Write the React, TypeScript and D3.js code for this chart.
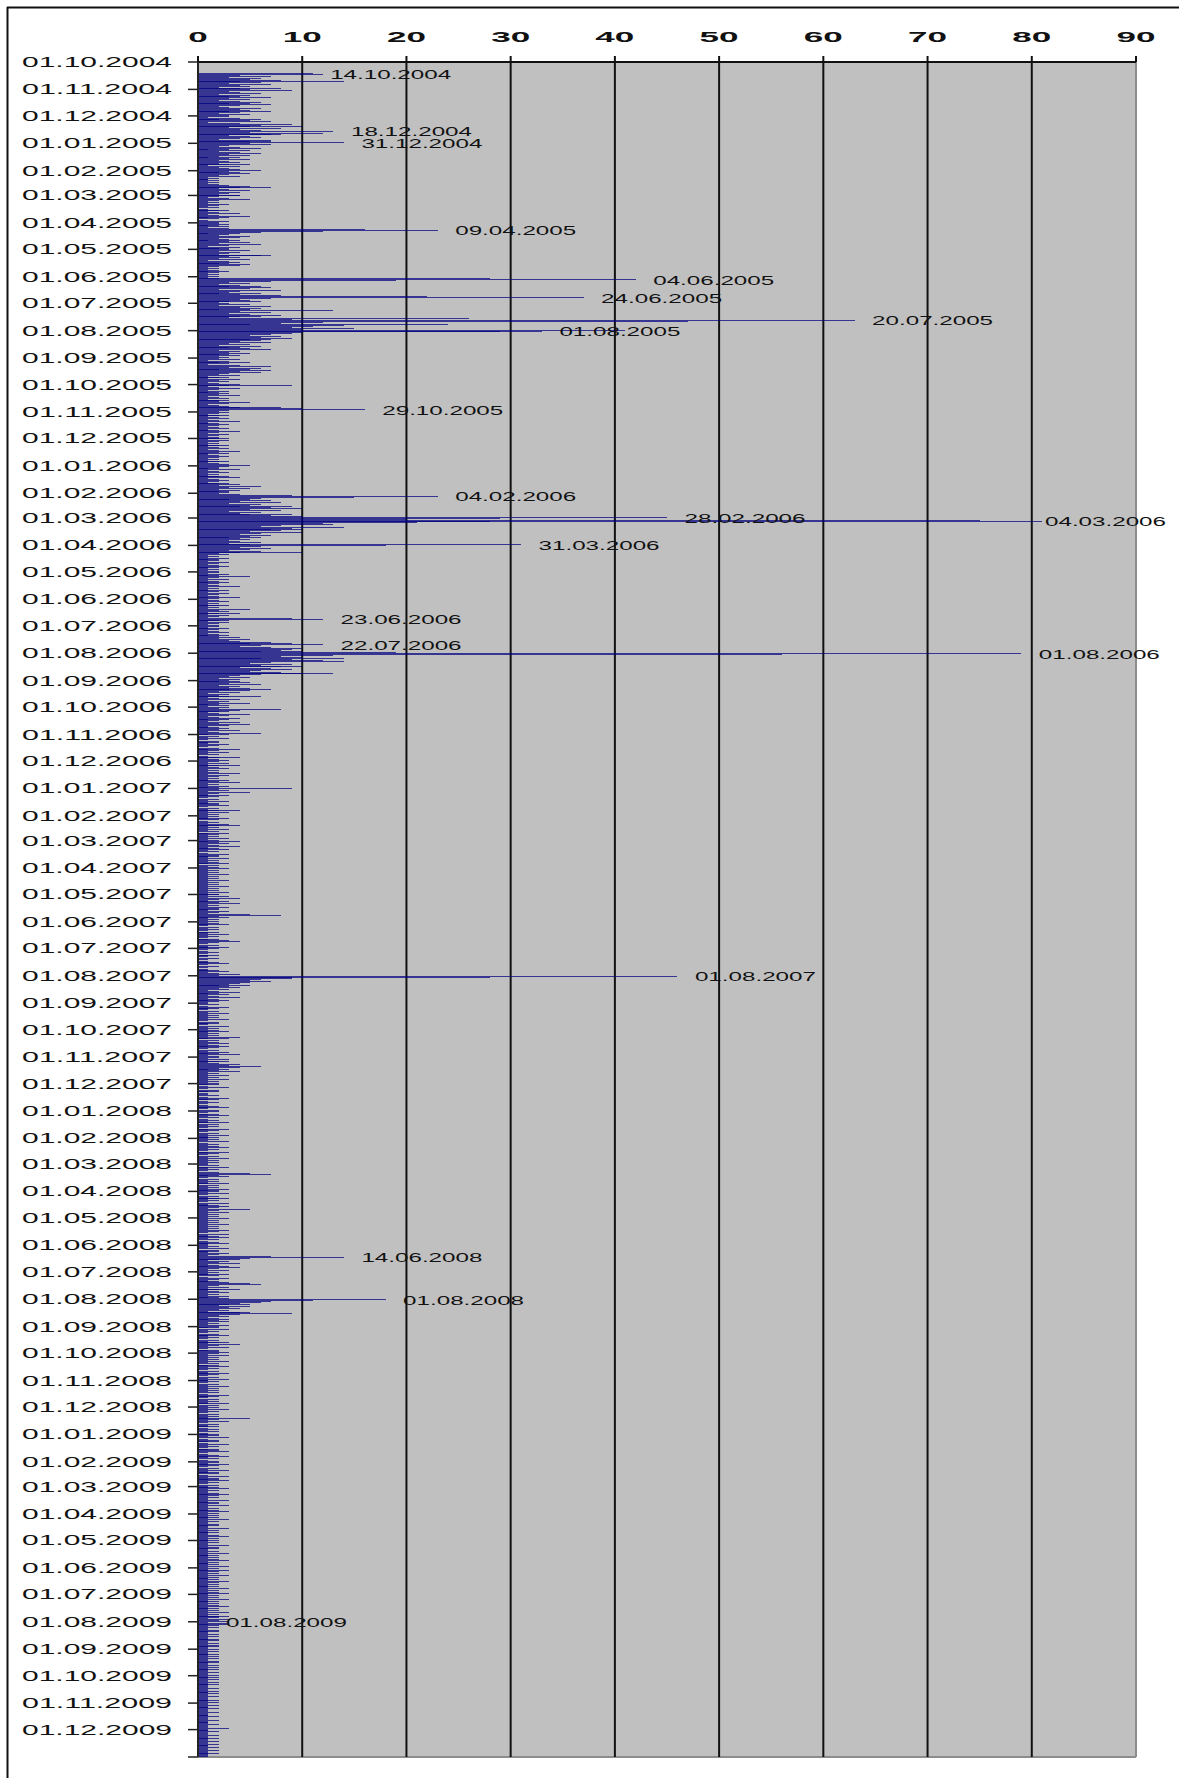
import React from 'react';
import * as d3 from 'd3';

// ---- daily counts, one array per year ----
const counts2004 = [
  // Oct (from 01.10.2004)
  0,0,0,0,0,0,0,0,0,0,0,0,0,11,12,4,7,3,6,5,8,4,14,6,3,7,4,5,2,8,4,
  // Nov
  5,9,3,4,6,2,5,3,4,7,3,5,2,4,6,3,5,7,4,2,3,6,4,5,7,3,4,2,5,3,
  // Dec
  3,1,4,6,2,5,7,1,4,9,6,10,5,3,8,4,6,13,5,12,7,8,3,5,6,4,2,7,5,7,14,
];
const counts2005 = [
  5,7,3,2,4,6,1,3,5,2,4,6,3,5,2,1,4,3,5,2,3,4,2,5,3,1,4,2,3,4,6,
  3,4,2,5,3,2,4,1,2,1,1,2,1,2,1,2,3,5,7,4,2,3,5,2,4,3,2,4,
  4,2,1,3,5,2,1,0,2,1,3,2,1,2,0,1,2,3,1,2,4,1,2,5,3,1,2,0,1,3,2,
  2,3,1,2,3,1,3,16,23,12,6,4,1,3,2,5,4,2,3,1,4,3,5,2,6,3,1,4,2,3,
  3,5,2,4,3,2,7,6,3,4,2,5,1,3,4,2,3,5,4,2,1,2,1,2,3,1,2,1,2,1,2,
  1,2,28,42,19,7,3,5,2,4,6,3,7,5,2,8,4,3,6,2,4,8,22,37,7,4,5,3,6,2,
  3,5,2,7,4,6,2,5,13,4,7,3,5,8,4,6,3,26,9,63,47,12,8,5,24,14,11,9,15,10,41,
  33,29,10,9,7,5,8,6,9,5,7,6,4,7,3,5,2,6,4,3,5,7,2,4,3,5,2,3,4,2,3,
  2,4,1,3,2,5,3,1,4,7,3,6,2,5,7,4,6,3,2,4,1,3,2,1,4,2,3,1,2,4,
  9,3,1,2,4,2,1,3,2,1,3,2,4,1,2,3,1,2,3,2,5,3,1,2,3,4,8,10,16,3,2,
  3,2,1,3,2,1,2,3,1,2,4,1,2,1,3,2,1,2,3,1,2,1,4,2,1,3,2,1,2,3,
  2,1,3,2,1,2,1,3,2,1,2,3,1,2,4,2,1,3,1,2,3,2,1,2,1,3,2,1,2,3,5,
];
const counts2006 = [
  3,2,1,2,4,1,2,3,1,2,1,3,2,4,1,2,3,2,1,2,3,4,2,6,3,5,2,4,3,2,3,
  2,4,9,23,15,6,3,5,7,4,8,3,6,5,9,4,7,10,5,8,3,6,4,9,5,7,10,45,
  29,20,75,81,28,21,12,13,8,6,14,9,10,7,8,5,10,6,4,7,5,3,6,4,5,3,4,6,3,5,31,
  18,6,4,7,5,3,6,10,4,2,3,1,2,1,3,2,1,2,1,3,2,1,2,3,1,2,1,2,1,2,
  2,1,3,2,1,5,2,1,3,1,2,1,3,2,1,2,4,1,2,1,3,1,2,1,3,2,1,2,4,1,2,
  1,2,3,1,2,1,3,2,1,2,1,5,2,3,1,2,4,1,3,2,1,9,12,3,2,1,3,2,1,2,
  2,1,3,1,2,1,2,3,1,2,1,3,2,4,2,5,3,4,7,5,9,12,6,4,7,10,9,8,6,10,19,
  79,56,13,8,10,14,6,9,12,14,7,5,9,6,8,10,4,7,9,6,5,8,10,13,6,4,3,5,2,4,3,
  4,2,5,3,6,2,4,3,5,7,3,5,2,4,1,3,2,6,3,1,2,4,1,3,2,5,1,2,3,1,
  3,2,8,4,2,3,1,2,5,3,1,2,4,1,3,2,1,4,2,5,3,1,2,1,3,2,4,1,2,6,3,
  1,0,2,1,3,1,0,2,1,2,1,3,2,1,0,2,1,4,2,1,3,1,2,0,1,2,4,1,2,3,
  2,1,3,1,2,4,1,2,3,1,2,1,0,2,4,1,3,2,1,2,1,3,1,2,4,1,2,1,3,2,1,
];
const counts2007 = [
  9,2,3,1,5,2,1,3,1,2,1,0,2,1,3,1,2,1,2,3,1,0,2,1,4,2,1,3,1,2,1,
  2,1,3,1,2,0,1,2,1,3,2,4,1,2,1,3,1,2,0,1,3,2,1,2,1,3,1,2,
  4,1,2,3,1,2,4,1,2,1,3,1,2,0,1,3,2,1,2,1,3,1,2,1,2,3,1,0,2,1,2,
  3,1,2,1,0,2,1,3,1,2,1,2,0,1,3,1,2,1,2,1,0,3,1,2,1,2,1,3,1,2,
  2,1,3,1,4,2,1,3,1,2,4,1,2,1,3,2,1,2,1,3,2,1,5,8,2,1,3,1,2,1,2,
  1,2,1,3,1,0,2,1,2,1,0,1,2,1,3,1,2,1,0,2,1,3,4,2,1,0,2,1,3,1,
  2,1,0,1,2,1,0,2,1,1,0,2,1,0,1,2,1,3,1,0,2,1,0,1,2,1,3,1,2,4,2,
  46,28,9,9,6,5,7,5,4,3,5,2,3,4,2,3,1,2,4,1,2,3,1,2,4,1,2,3,1,2,1,
  1,2,0,1,3,1,2,1,0,2,1,3,1,0,2,1,2,1,3,1,0,2,1,2,1,0,3,1,2,1,
  2,1,3,1,2,1,2,1,4,3,1,0,2,1,2,3,1,2,3,1,2,1,0,2,1,3,1,2,4,1,2,
  2,1,3,1,2,3,1,2,4,3,6,4,2,1,3,2,4,1,2,1,3,0,1,2,1,3,1,2,1,2,
  1,2,0,1,3,1,0,2,1,2,0,1,1,2,0,1,3,1,2,0,1,2,1,0,1,2,1,3,1,0,2,
];
const counts2008 = [
  2,1,0,2,1,3,1,2,0,1,2,1,3,1,0,2,1,2,1,0,3,1,2,1,0,2,1,3,1,2,1,
  1,2,1,3,0,1,2,1,0,2,3,1,2,1,0,1,3,2,1,0,2,1,3,1,2,0,1,2,1,
  1,2,0,1,3,1,2,1,0,2,5,7,2,1,3,1,0,2,1,2,1,3,1,0,2,1,2,1,3,1,2,
  2,1,3,1,0,2,1,2,3,1,2,1,0,3,1,2,1,3,2,1,5,2,1,3,1,0,2,1,2,1,
  3,1,2,1,0,2,1,3,1,2,1,0,2,1,3,2,1,0,3,1,2,1,3,1,2,0,1,2,1,3,1,
  1,2,1,3,0,2,1,2,1,3,2,1,7,14,5,4,2,1,3,2,4,1,2,3,1,4,2,1,3,1,
  2,1,3,1,2,0,1,3,2,1,2,1,3,5,6,2,1,3,1,2,4,1,2,3,1,2,1,3,2,1,3,
  18,11,7,6,4,5,3,2,5,3,4,2,3,1,4,5,9,4,2,3,1,2,3,1,2,3,1,2,1,3,2,
  1,2,0,3,1,2,1,0,2,1,3,1,2,1,0,2,1,3,2,1,4,2,1,3,1,0,2,1,2,3,
  2,1,3,1,0,2,1,2,1,3,1,2,0,1,2,3,1,2,1,0,2,1,3,1,2,1,0,2,1,3,1,
  1,2,1,0,2,1,3,1,2,0,1,2,1,2,0,1,3,1,2,1,0,2,1,2,1,3,1,0,2,1,
  2,1,3,1,0,2,1,0,2,1,2,1,5,1,2,1,3,1,0,2,1,2,1,0,1,2,1,2,0,1,2,
];
const counts2009 = [
  1,2,1,3,0,1,2,1,2,0,1,3,1,2,1,0,2,1,2,3,1,0,1,2,1,3,1,2,0,1,2,
  2,1,3,1,2,1,0,2,1,3,1,2,1,2,0,1,3,1,2,1,2,3,1,2,1,0,2,1,
  2,1,3,1,2,1,1,2,3,1,2,1,2,1,1,3,1,2,1,2,1,3,1,1,2,1,2,1,3,1,2,
  1,2,1,1,2,1,3,1,2,1,1,2,1,2,1,1,3,1,2,1,1,2,1,1,2,3,1,2,1,1,
  2,1,2,1,1,3,1,2,1,2,1,1,2,1,3,1,2,1,1,2,1,2,3,1,2,1,1,2,1,3,1,
  2,1,3,1,2,1,2,1,3,1,2,1,1,2,1,3,2,1,2,1,1,2,1,3,1,2,1,2,1,3,
  1,2,1,2,1,3,1,2,1,1,2,1,2,3,1,2,1,1,2,1,3,1,2,1,2,3,2,1,3,2,3,
  1,3,3,1,2,1,2,1,1,2,1,2,1,1,2,1,2,1,1,2,1,2,1,1,2,1,2,1,2,1,1,
  2,1,2,1,1,2,1,1,2,1,2,1,1,2,1,2,1,1,2,1,2,1,1,2,1,1,2,1,1,2,
  1,2,1,1,2,1,1,2,1,1,2,1,1,1,2,1,1,2,1,1,2,1,1,2,1,1,1,2,1,1,2,
  1,1,2,1,1,1,2,1,1,1,2,1,1,1,1,2,1,1,1,2,1,1,1,1,2,1,1,1,3,1,
  1,1,2,1,1,1,2,1,1,2,1,1,1,2,1,1,2,1,1,1,2,1,1,2,1,1,1,2,1,1,1,
];

const seriesStarts = ['2004-10-01', '2005-01-01', '2006-01-01', '2007-01-01', '2008-01-01', '2009-01-01'];
const seriesCounts = [counts2004, counts2005, counts2006, counts2007, counts2008, counts2009];
const axisStart = '2004-10-01';
const axisEnd = '2010-01-01';
const xTicks = [0, 10, 20, 30, 40, 50, 60, 70, 80, 90];
const labelledDays = [
  '14.10.2004', '18.12.2004', '31.12.2004', '09.04.2005', '04.06.2005', '24.06.2005',
  '20.07.2005', '01.08.2005', '29.10.2005', '04.02.2006', '28.02.2006', '04.03.2006',
  '31.03.2006', '23.06.2006', '22.07.2006', '01.08.2006', '01.08.2007', '14.06.2008',
  '01.08.2008', '01.08.2009',
];

const parseIso = d3.utcParse('%Y-%m-%d');
const parseDot = d3.utcParse('%d.%m.%Y');
const fmtDot = d3.utcFormat('%d.%m.%Y');

const FONT = "'Liberation Sans', Arial, sans-serif";

function SText(props: any) {
  const { x, y, w, anchor, children, ...rest } = props;
  const sx = anchor === 'end' ? x - w : anchor === 'middle' ? x - w / 2 : x;
  return (
    <text x={sx} y={y} textLength={w} lengthAdjust="spacingAndGlyphs" {...rest}>
      {children}
    </text>
  );
}

export default function App() {
  const W = 1179;
  const H = 1778;
  const m = { left: 198, right: 1136, top: 62, bottom: 1757 };
  const start = parseIso(axisStart) as Date;
  const end = parseIso(axisEnd) as Date;
  const x = d3.scaleLinear().domain([0, 90]).range([m.left, m.right]);
  const y = d3.scaleUtc().domain([start, end]).range([m.top, m.bottom]);
  const dayH = y(d3.utcDay.offset(start, 1)) - y(start);

  const records: { date: Date; value: number }[] = [];
  seriesCounts.forEach((arr, k) => {
    const s = parseIso(seriesStarts[k]) as Date;
    arr.forEach((v, i) => records.push({ date: d3.utcDay.offset(s, i), value: v }));
  });
  const byKey = new Map(records.map((r) => [fmtDot(r.date), r.value]));

  const barY = (d: Date) => y(d) + dayH / 2;
  const barPath = records
    .filter((r) => r.value > 0)
    .map((r) => `M${x(0)},${barY(r.date).toFixed(2)}H${x(r.value).toFixed(2)}`)
    .join('');

  const monthTicks = d3.utcMonth.range(start, d3.utcDay.offset(end, 1));

  const labelW = 121;
  const labelGap = 17.5;
  const chartRight = 1166;

  return (
    <div style={{ position: 'absolute', left: 0, top: 0, width: W, height: H, background: '#fff' }}>
      <svg width={W} height={H} style={{ display: 'block' }} fontFamily={FONT}>
        <rect x={0} y={0} width={W} height={H} fill="#fff" />
        {/* outer frame */}
        <line x1={7} y1={7.5} x2={W} y2={7.5} stroke="#111" strokeWidth={2} />
        <line x1={7.5} y1={7} x2={7.5} y2={H} stroke="#111" strokeWidth={2} />

        {/* plot area */}
        <rect x={m.left} y={m.top} width={m.right - m.left} height={m.bottom - m.top} fill="#c0c0c0" />
        <line x1={m.right} y1={m.top} x2={m.right} y2={m.bottom} stroke="#8c8c8c" strokeWidth={2} />
        <line x1={m.left} y1={m.bottom} x2={m.right} y2={m.bottom} stroke="#8c8c8c" strokeWidth={2} />
        {xTicks.filter((t) => t > 0 && t < 90).map((t) => (
          <line key={'g' + t} x1={x(t)} y1={m.top} x2={x(t)} y2={m.bottom} stroke="#111" strokeWidth={2} />
        ))}

        {/* bars */}
        <path d={barPath} stroke="#000080" strokeWidth={0.8} strokeOpacity={0.9} fill="none" shapeRendering="crispEdges" />

        {/* top axis */}
        <line x1={m.left} y1={m.top} x2={m.right} y2={m.top} stroke="#111" strokeWidth={2} />
        {xTicks.map((t) => (
          <g key={'t' + t}>
            <line x1={x(t)} y1={m.top - 6} x2={x(t)} y2={m.top} stroke="#111" strokeWidth={2} />
            <SText x={x(t)} y={42} w={String(t).length * 19.5} anchor="middle" fontSize={15.5} fontWeight="bold" fill="#111">
              {String(t)}
            </SText>
          </g>
        ))}

        {/* left date axis */}
        <line x1={m.left} y1={m.top} x2={m.left} y2={m.bottom} stroke="#222" strokeWidth={2} />
        {monthTicks.map((d, i) => (
          <g key={'m' + i}>
            <line x1={m.left - 10} y1={y(d)} x2={m.left} y2={y(d)} stroke="#222" strokeWidth={1.5} />
            {d < end && (
              <SText x={172} y={y(d) + 5} w={150} anchor="end" fontSize={14} fill="#111">
                {fmtDot(d)}
              </SText>
            )}
          </g>
        ))}

        {/* data labels */}
        {labelledDays.map((s) => {
          const d = parseDot(s) as Date;
          const v = byKey.get(s) ?? 0;
          const lx = Math.min(x(v) + labelGap, chartRight - labelW);
          return (
            <SText key={'l' + s} x={lx} y={barY(d) + 5} w={labelW} fontSize={13.5} fill="#111">
              {s}
            </SText>
          );
        })}
      </svg>
    </div>
  );
}
